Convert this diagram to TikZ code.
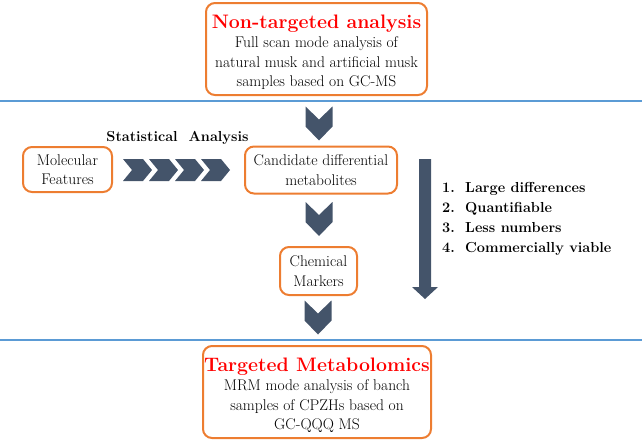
\documentclass[tikz,border=0pt]{standalone}
\usetikzlibrary{calc}

\definecolor{muskorange}{HTML}{ED7D31}
\definecolor{lineblue}{HTML}{5B9BD5}
\definecolor{chevgrey}{HTML}{44546A}

\tikzset{
  stepframe/.style={draw=muskorange, line width=2pt, rounded corners=9pt,
    align=center, inner sep=0pt, font=\fontsize{15.5}{19.5}\selectfont},
  stagebox/.style={stepframe, minimum height=92},
  divider/.style={lineblue, line width=2pt},
  boldnote/.style={font=\fontsize{14.5}{20}\selectfont\bfseries, inner sep=0pt},
  downchev/.pic={\fill[chevgrey] (-13.5,-17) -- (0,-4) -- (13.5,-17) -- (13.5,3) -- (0,17) -- (-13.5,3) -- cycle;},
  rightchev/.pic={\fill[chevgrey] (0,-11) -- (20,-11) -- (29,0) -- (20,11) -- (0,11) -- (9,0) -- cycle;}
}
\newcommand{\boxtitle}[1]{{\rule{0pt}{20.5pt}\fontsize{19.5}{24}\selectfont\bfseries\color{red}#1}}

\begin{document}
\begin{tikzpicture}[x=1pt, y=-1pt]
    \useasboundingbox (0,0) rectangle (642,442);

    % Section dividers
    \coordinate (div1w) at (0,101);   \coordinate (div1e) at (642,101);
    \coordinate (div2w) at (0,340);   \coordinate (div2e) at (642,340);
    \draw[divider] (div1w) -- (div1e);
    \draw[divider] (div2w) -- (div2e);

    % Boxes
    \node[stagebox, minimum width=221] (untargeted) at (316.5,49)
      {\boxtitle{Non-targeted analysis}\\Full scan mode analysis of\\natural musk and artificial musk\\samples based on GC-MS};
    \node[stepframe, minimum width=89, minimum height=45] (molfeat) at (67.5,169.5)
      {Molecular\\Features};
    \node[stepframe, minimum width=152, minimum height=47] (candidate) at (321,170)
      {Candidate differential\\metabolites};
    \node[stepframe, minimum width=77, minimum height=48] (chemmark) at (318.5,271)
      {Chemical\\Markers};
    \node[stagebox, minimum width=228] (targeted) at (317,392)
      {\boxtitle{Targeted Metabolomics}\\MRM mode analysis of banch\\samples of CPZHs based on\\GC-QQQ MS};

    % Downward chevrons
    \pic at (319,123.5) {downchev};
    \pic at (319,219) {downchev};
    \pic at (318,317.5) {downchev};

    % Statistical analysis chevrons
    \foreach \i in {0,1,2,3} \pic at (123+26*\i,170) {rightchev};
    \node[boldnote] (statlabel) at (177.5,138) {Statistical~~Analysis};

    % Selection criteria arrow
    \fill[chevgrey] (419,159) -- (431,159) -- (431,287) -- (438,287) -- (425,299)
      -- (412,287) -- (419,287) -- cycle;
    \node[boldnote, align=left, anchor=north west] (criteria) at (442,182)
      {\makebox[23pt][l]{1.}Large differences\\
       \makebox[23pt][l]{2.}Quantifiable\\
       \makebox[23pt][l]{3.}Less numbers\\
       \makebox[23pt][l]{4.}Commercially viable};
\end{tikzpicture}
\end{document}
